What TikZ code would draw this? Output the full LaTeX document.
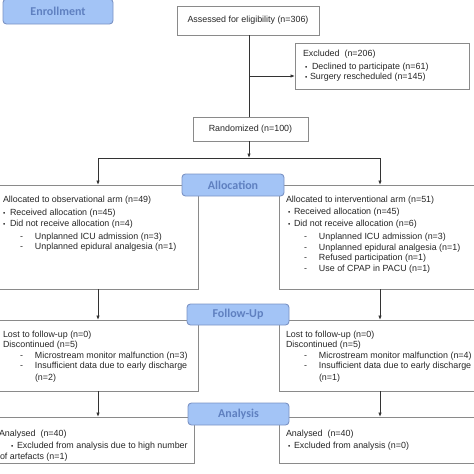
\documentclass[tikz,border=0pt]{standalone}
\usepackage{fontspec}
\setmainfont{Liberation Sans}
\newfontfamily\labfont{Carlito}
\usetikzlibrary{arrows.meta}
\definecolor{labfill}{HTML}{A3C4F6}
\definecolor{labdraw}{HTML}{7B93C4}
\definecolor{labtext}{HTML}{5F80C0}
\definecolor{boxdraw}{HTML}{8A8A8A}
\definecolor{txtcol}{HTML}{262626}
\definecolor{linecol}{HTML}{333333}
\newcommand\bulmark{{\fontsize{6.5pt}{7pt}\selectfont •}}
\begin{document}
\begin{tikzpicture}[x=1pt,y=-1pt,
  box/.style={draw=boxdraw,line width=0.9pt,inner sep=0pt,outer sep=0pt,anchor=north west,text=txtcol,font=\fontsize{8.9pt}{10pt}\selectfont},
  stage/.style={draw=labdraw,fill=labfill,rounded corners=3.5pt,line width=0.9pt,inner sep=0pt,outer sep=0pt,anchor=north west,text=labtext,font=\labfont\bfseries\fontsize{12pt}{14pt}\selectfont},
  txt/.style={anchor=base west,inner sep=0pt,outer sep=0pt,text=txtcol,font=\fontsize{8.9pt}{10pt}\selectfont},
  conn/.style={draw=linecol,line width=0.9pt},
  arr/.style={conn,-{Latex[length=4.5pt,width=3.6pt]}}]
\useasboundingbox (0,0) rectangle (474,474);
% stage labels
\node[stage,minimum width=110pt,minimum height=25pt] (enroll) at (3,-1) {Enrollment};
% enrollment boxes
\node[box,minimum width=142pt,minimum height=29pt] (assess) at (177,6) {Assessed for eligibility (n=306)};
\node[box,minimum width=174pt,minimum height=46pt] (excl) at (295,43) {};
\node[txt] (ex1) at (303,56) {Excluded\ \ (n=206)};
\node[txt] (ex2) at (305,69) {\makebox[7pt][l]{\bulmark}Declined to participate (n=61)};
\node[txt] (ex3) at (305,79) {\makebox[5pt][l]{\bulmark}Surgery rescheduled (n=145)};
\node[box,minimum width=115pt,minimum height=24pt] (rand) at (193,117) {Randomized (n=100)};
\coordinate (br) at (249,76);
\coordinate (split) at (249,158);
\coordinate (splitL) at (98,158);
\coordinate (splitR) at (380,158);
% allocation boxes
\node[box,minimum width=200pt,minimum height=104pt] (la) at (-2,185) {};
\node[box,minimum width=200pt,minimum height=104pt] (ra) at (279,185) {};
\node[stage,minimum width=102pt,minimum height=22pt] (alloc) at (182,174) {Allocation};
\node[txt] (la1) at (3,202) {Allocated to observational arm (n=49)};
\node[txt] (la2) at (3,215) {\makebox[7pt][l]{\bulmark}Received allocation (n=45)};
\node[txt] (la3) at (3,226) {\makebox[7pt][l]{\bulmark}Did not receive allocation (n=4)};
\node[txt] (la4) at (20,239) {\makebox[15pt][l]{-}Unplanned ICU admission (n=3)};
\node[txt] (la5) at (20,249) {\makebox[15pt][l]{-}Unplanned epidural analgesia (n=1)};
\node[txt] (ra1) at (286,202) {Allocated to interventional arm (n=51)};
\node[txt] (ra2) at (288,214) {\makebox[6pt][l]{\bulmark}Received allocation (n=45)};
\node[txt] (ra3) at (288,226) {\makebox[6pt][l]{\bulmark}Did not receive allocation (n=6)};
\node[txt] (ra4) at (304,239) {\makebox[15pt][l]{-}Unplanned ICU admission (n=3)};
\node[txt] (ra5) at (304,250) {\makebox[15pt][l]{-}Unplanned epidural analgesia (n=1)};
\node[txt] (ra6) at (304,260) {\makebox[15pt][l]{-}Refused participation (n=1)};
\node[txt] (ra7) at (304,271) {\makebox[15pt][l]{-}Use of CPAP in PACU (n=1)};
% follow-up boxes
\node[box,minimum width=200pt,minimum height=71pt] (lf) at (-2,320) {};
\node[box,minimum width=200pt,minimum height=71pt] (rf) at (279,320) {};
\node[stage,minimum width=102pt,minimum height=21pt] (follow) at (187,304) {Follow-Up};
\node[txt] (lf1) at (3,337) {Lost to follow-up (n=0)};
\node[txt] (lf2) at (3,347) {Discontinued (n=5)};
\node[txt] (lf3) at (20,358) {\makebox[15pt][l]{-}Microstream monitor malfunction (n=3)};
\node[txt] (lf4) at (20,368) {\makebox[15pt][l]{-}Insufficient data due to early discharge};
\node[txt] (lf5) at (35,380) {(n=2)};
\node[txt] (rf1) at (286,337) {Lost to follow-up (n=0)};
\node[txt] (rf2) at (286,347) {Discontinued (n=5)};
\node[txt] (rf3) at (304,358) {\makebox[15pt][l]{-}Microstream monitor malfunction (n=4)};
\node[txt] (rf4) at (304,368) {\makebox[15pt][l]{-}Insufficient data due to early discharge};
\node[txt] (rf5) at (319,380) {(n=1)};
% analysis boxes
\node[box,minimum width=197pt,minimum height=46pt] (lan) at (-3,417) {};
\node[box,minimum width=200pt,minimum height=46pt] (ran) at (279,417) {};
\node[stage,minimum width=101pt,minimum height=22pt] (analysis) at (188,403) {Analysis};
\node[txt] (lan1) at (-1,436) {Analysed\ \ (n=40)};
\node[txt] (lan2) at (11,448) {\makebox[6pt][l]{\bulmark}Excluded from analysis due to high number};
\node[txt] (lan3) at (0,459) {of artefacts (n=1)};
\node[txt] (ran1) at (286,436) {Analysed\ \ (n=40)};
\node[txt] (ran2) at (288,448) {\makebox[6pt][l]{\bulmark}Excluded from analysis (n=0)};
% connectors
\draw[conn] (br |- assess.south) -- (br |- rand.north);
\draw[arr] (br) -- (excl.west |- br);
\draw[arr] (split |- rand.south) -- (split);
\draw[conn] (splitL) -- (splitR);
\draw[arr] (splitL) -- (splitL |- la.north);
\draw[arr] (splitR) -- (splitR |- ra.north);
\draw[arr] (splitL |- la.south) -- (splitL |- lf.north);
\draw[arr] (splitR |- ra.south) -- (splitR |- rf.north);
\draw[arr] (splitL |- lf.south) -- (splitL |- lan.north);
\draw[arr] (splitR |- rf.south) -- (splitR |- ran.north);
\end{tikzpicture}
\end{document}
